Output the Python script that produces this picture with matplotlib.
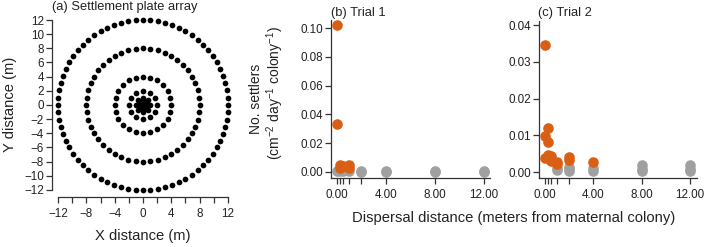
import matplotlib.pyplot as plt
import numpy as np

plt.rcParams['font.family'] = ['Liberation Sans', 'DejaVu Sans']
plt.rcParams['mathtext.default'] = 'regular'

# settlement plate array: ring radius (m) and plates per ring
ring_radius = [12, 8, 4, 2, 1, 0.5, 0.25, 0]
ring_count = [72, 48, 24, 12, 8, 6, 4, 1]

# trial 1 (orange = settlers, grey = others)
t1_orange_x = [0, 0, 0.25, 0.25, 0.5, 1, 1]
t1_orange_y = [0.102, 0.033, 0.0048, 0.0030, 0.0040, 0.0045, 0.0030]
t1_grey_x = [0, 0.25, 0.5, 1, 2, 2, 4, 4, 8, 8, 12, 12]
t1_grey_y = [0.0010, 0.0010, 0.0008, 0.0008, 0.0003, 0.0008, 0.0003, 0.0008,
             0.0003, 0.0008, 0.0003, 0.0008]

# trial 2
t2_orange_x = [0, 0, 0.25, 0.25, 0, 0.25, 0.5, 0.5, 1, 1, 2, 2, 4]
t2_orange_y = [0.0345, 0.0098, 0.0121, 0.0081, 0.0038, 0.0047, 0.0045, 0.0030,
               0.0027, 0.0022, 0.0042, 0.0033, 0.0028]
t2_grey_x = [1, 1, 2, 2, 2, 4, 4, 8, 8, 8, 12, 12, 12]
t2_grey_y = [0.0012, 0.0006, 0.0015, 0.0008, 0.0003, 0.0012, 0.0004, 0.0019,
             0.0010, 0.0003, 0.0019, 0.0010, 0.0003]

dist_ticks = [0, 0.25, 0.5, 1, 2, 4, 8, 12]
dist_labels = [0, 4, 8, 12]

orange = '#D95F14'
grey = '#A0A0A0'
axcol = '#333333'

W, H = 709, 247
fig = plt.figure(figsize=(W / 100, H / 100), dpi=100)


def px_axes(x0, y_top, x1, y_bot):
    return fig.add_axes([x0 / W, 1 - y_bot / H, (x1 - x0) / W, (y_bot - y_top) / H])


def num(v):
    s = str(v)
    return s.replace('-', '\u2212')


def style(ax):
    for s in ['top', 'right']:
        ax.spines[s].set_visible(False)
    for s in ['left', 'bottom']:
        ax.spines[s].set_color(axcol)
        ax.spines[s].set_linewidth(0.9)
    ax.tick_params(which='both', direction='out', length=4.3, width=0.9,
                   color=axcol, labelsize=8.4, labelcolor='#222222')
    ax.tick_params(axis='x', which='both', pad=3.5)
    ax.tick_params(axis='y', which='both', pad=1.5)


# (a) plate array
axa = px_axes(52, 14, 234, 197)
for r, n in zip(ring_radius, ring_count):
    ang = np.arange(n) * 2 * np.pi / n
    axa.scatter(r * np.cos(ang), r * np.sin(ang), s=17, color='black', lw=0)
axa.set_xlim(-12.85, 12.85)
axa.set_ylim(-13, 12.85)
style(axa)
axa.spines['left'].set_bounds(-12, 12)
axa.spines['bottom'].set_bounds(-12, 12)
axa.set_xticks(np.arange(-12, 13, 4))
axa.set_xticks(np.arange(-12, 13, 2), minor=True)
axa.set_yticks(np.arange(-12, 13, 2))
axa.set_xticklabels([num(v) for v in range(-12, 13, 4)])
axa.set_yticklabels([num(v) for v in range(-12, 13, 2)])

# (b) trial 1
axb = px_axes(331, 20, 490, 178)
axb.scatter(t1_grey_x, t1_grey_y, s=58, color=grey, lw=0, zorder=2)
axb.scatter(t1_orange_x, t1_orange_y, s=58, color=orange, lw=0, zorder=3)
axb.set_xlim(-0.47, 12.5)
axb.set_ylim(-0.0042, 0.1056)
style(axb)
axb.set_yticks(np.arange(0, 0.101, 0.02))
axb.set_yticklabels(['%.2f' % v for v in np.arange(0, 0.101, 0.02)])

# (c) trial 2
axc = px_axes(539, 21, 697, 178)
axc.scatter(t2_grey_x, t2_grey_y, s=58, color=grey, lw=0, zorder=2)
axc.scatter(t2_orange_x, t2_orange_y, s=58, color=orange, lw=0, zorder=3)
axc.set_xlim(-0.5, 12.57)
axc.set_ylim(-0.00155, 0.0411)
style(axc)
axc.set_yticks(np.arange(0, 0.041, 0.01))
axc.set_yticklabels(['%.2f' % v for v in np.arange(0, 0.041, 0.01)])

for ax in (axb, axc):
    ax.set_xticks(dist_ticks, minor=True)
    ax.set_xticks(dist_labels)
    ax.set_xticklabels(['%.2f' % v for v in dist_labels])


# titles and labels
def ftext(x, y, s, **kw):
    fig.text(x / W, 1 - y / H, s, color='#222222', **kw)


ftext(52, 7, '(a) Settlement plate array', fontsize=9.3, ha='left', va='center')
ftext(331, 13, '(b) Trial 1', fontsize=9.3, ha='left', va='center')
ftext(538, 13, '(c) Trial 2', fontsize=9.3, ha='left', va='center')
ftext(10, 104, 'Y distance (m)', fontsize=10.6, rotation=90, ha='center', va='center')
ftext(143, 236, 'X distance (m)', fontsize=10.6, ha='center', va='center')
ftext(256, 99, 'No. settlers', fontsize=10, rotation=90, ha='center', va='center')
ftext(275, 93, '(cm$^{-2}$ day$^{-1}$ colony$^{-1}$)', fontsize=10, rotation=90,
      ha='center', va='center')
ftext(514, 218, 'Dispersal distance (meters from maternal colony)', fontsize=10.6,
      ha='center', va='center')

fig.savefig('out.png', dpi=100)
